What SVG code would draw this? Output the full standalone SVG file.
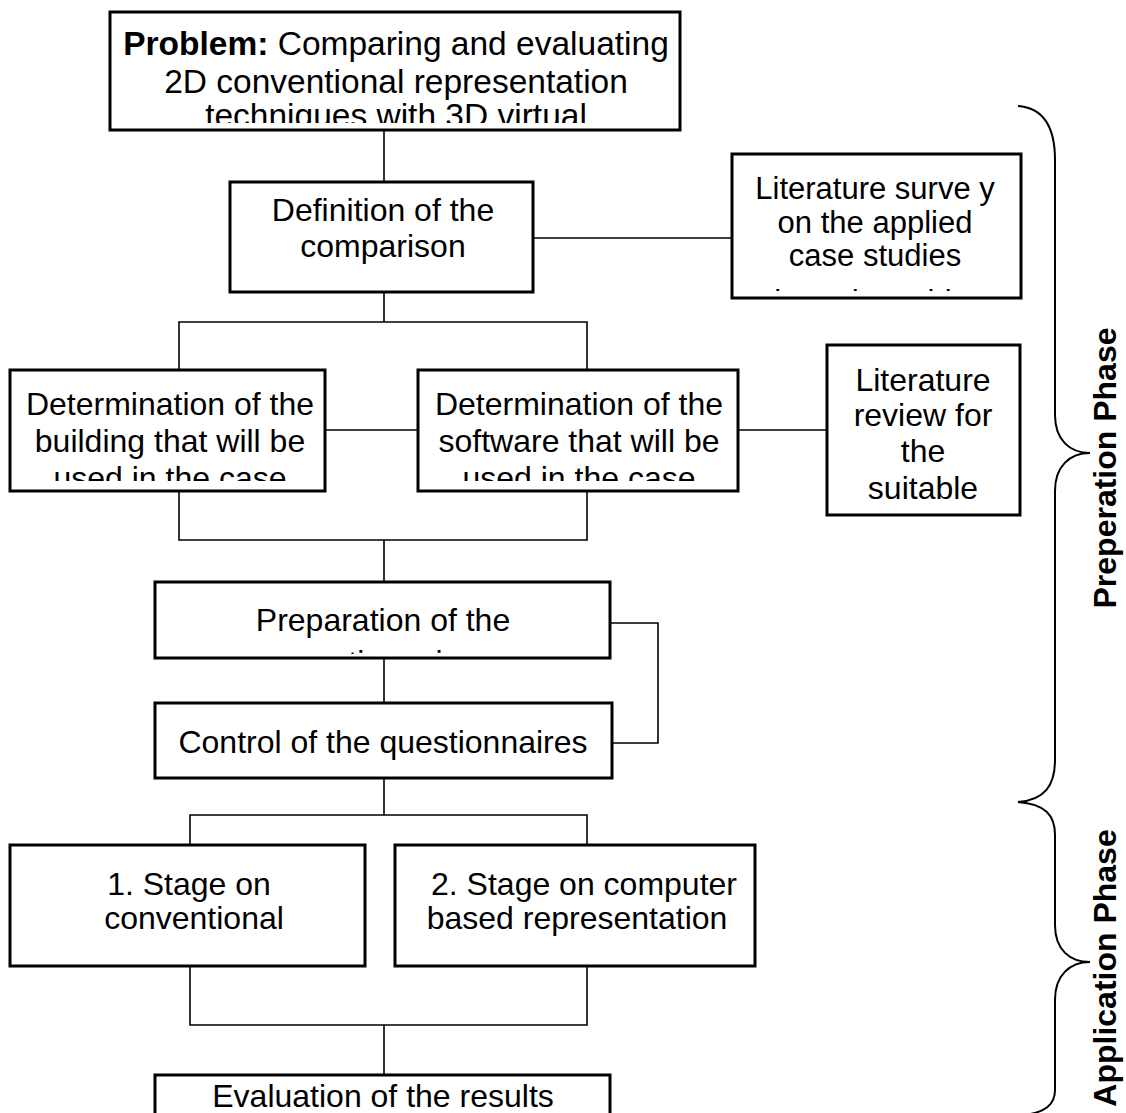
<svg xmlns="http://www.w3.org/2000/svg" width="1126" height="1113" viewBox="0 0 1126 1113">
<style>
.box{fill:#fff;stroke:#000;stroke-width:3}
.t{font-family:"Liberation Sans",Arial,sans-serif;font-size:32px;fill:#000;text-anchor:middle}
.p{font-size:33.5px}
.s{font-size:31px}
.b{font-weight:bold}
.ph{font-family:"Liberation Sans",Arial,sans-serif;font-size:32px;font-weight:bold;fill:#000;text-anchor:middle}
.c{fill:none;stroke:#000;stroke-width:1.6}
.br{fill:none;stroke:#000;stroke-width:2}
</style>
<defs>
<clipPath id="cp1"><rect x="112" y="14" width="566" height="109"/></clipPath>
<clipPath id="cp2"><rect x="734" y="156" width="285" height="135"/></clipPath>
<clipPath id="cp3"><rect x="12" y="372" width="311" height="109"/></clipPath>
<clipPath id="cp4"><rect x="420" y="372" width="316" height="109"/></clipPath>
<clipPath id="cp5"><rect x="157" y="584" width="451" height="70"/></clipPath>
</defs>
<rect width="1126" height="1113" fill="#fff"/>
<g id="connectors">
<path class="c" d="M384,130V182"/>
<path class="c" d="M533,238H732"/>
<path class="c" d="M384,292V322M179,370V322H587V370"/>
<path class="c" d="M325,430H418"/>
<path class="c" d="M738,430H827"/>
<path class="c" d="M179,491V540H587V491M384,540V582"/>
<path class="c" d="M384,658V703"/>
<path class="c" d="M610,623H658V743H612"/>
<path class="c" d="M384,778V815M190,845V815H587V845"/>
<path class="c" d="M190,966V1025H587V966M384,1025V1075"/>
</g>
<g id="problem">
<rect class="box" x="110" y="12" width="570" height="118"/>
<g clip-path="url(#cp1)">
<text class="t p" x="396" y="55"><tspan class="b">Problem:</tspan> Comparing and evaluating</text>
<text class="t p" x="396" y="93">2D conventional representation</text>
<text class="t p" x="396" y="127">techniques with 3D virtual</text>
</g>
</g>
<g id="definition">
<rect class="box" x="230" y="182" width="303" height="110"/>
<text class="t" x="383" y="221">Definition of the</text>
<text class="t" x="383" y="257">comparison</text>
</g>
<g id="literature-survey">
<rect class="box" x="732" y="154" width="289" height="144"/>
<g clip-path="url(#cp2)">
<text class="t s" x="875" y="199">Literature surve y</text>
<text class="t s" x="875" y="233">on the applied</text>
<text class="t s" x="875" y="266">case studies</text>
<text class="t s" x="875" y="312">about the subject</text>
</g>
</g>
<g id="building">
<rect class="box" x="10" y="370" width="315" height="121"/>
<g clip-path="url(#cp3)">
<text class="t" x="170" y="415">Determination of the</text>
<text class="t" x="170" y="452">building that will be</text>
<text class="t" x="170" y="489">used in the case</text>
</g>
</g>
<g id="software">
<rect class="box" x="418" y="370" width="320" height="121"/>
<g clip-path="url(#cp4)">
<text class="t" x="579" y="415">Determination of the</text>
<text class="t" x="579" y="452">software that will be</text>
<text class="t" x="579" y="489">used in the case</text>
</g>
</g>
<g id="literature-review">
<rect class="box" x="827" y="345" width="193" height="170"/>
<text class="t" x="923" y="391">Literature</text>
<text class="t" x="923" y="426">review for</text>
<text class="t" x="923" y="462">the</text>
<text class="t" x="923" y="499">suitable</text>
</g>
<g id="preparation">
<rect class="box" x="155" y="582" width="455" height="76"/>
<g clip-path="url(#cp5)">
<text class="t" x="383" y="631">Preparation of the</text>
<text class="t" x="383" y="673">questionnaires</text>
</g>
</g>
<g id="control">
<rect class="box" x="155" y="703" width="457" height="75"/>
<text class="t" x="383" y="753">Control of the questionnaires</text>
</g>
<g id="stage1">
<rect class="box" x="10" y="845" width="355" height="121"/>
<text class="t" x="189" y="895">1. Stage on</text>
<text class="t" x="194" y="929">conventional</text>
</g>
<g id="stage2">
<rect class="box" x="395" y="845" width="360" height="121"/>
<text class="t" x="584" y="895">2. Stage on computer</text>
<text class="t" x="577" y="929">based representation</text>
</g>
<g id="evaluation">
<rect class="box" x="155" y="1075" width="455" height="60"/>
<text class="t" x="383" y="1107">Evaluation of the results</text>
</g>
<g id="preparation-phase">
<path class="br" d="M1018,106C1045,108 1055,130 1055,160L1055,415C1055,440 1070,453 1090,453C1070,453 1055,466 1055,491L1055,760C1055,785 1045,800 1018,802"/>
<text class="ph" transform="translate(1116,468) rotate(-90)">Preperation Phase</text>
</g>
<g id="application-phase">
<path class="br" d="M1018,802C1045,804 1055,815 1055,835L1055,925C1055,950 1070,962 1090,962C1070,962 1055,975 1055,1000L1055,1090C1055,1105 1045,1112 1025,1115"/>
<text class="ph" transform="translate(1116,968) rotate(-90)">Application Phase</text>
</g>
</svg>
